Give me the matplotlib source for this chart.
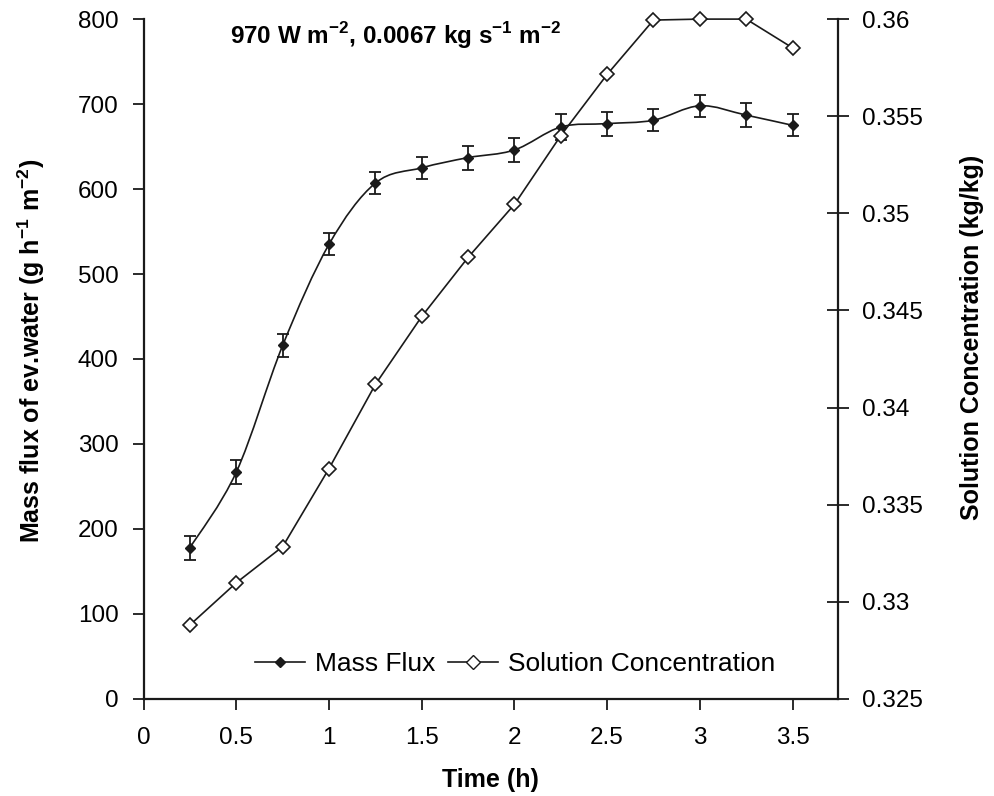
import numpy as np
import matplotlib
matplotlib.use("Agg")
import matplotlib.pyplot as plt
from matplotlib.path import Path
from matplotlib.patches import PathPatch
from matplotlib.lines import Line2D

plt.rcParams['font.family'] = ['Liberation Sans', 'DejaVu Sans']
plt.rcParams['mathtext.fontset'] = 'custom'
plt.rcParams['mathtext.rm'] = 'Liberation Sans'
plt.rcParams['mathtext.bf'] = 'Liberation Sans:bold'

# time (h)
time_h = [0.25, 0.5, 0.75, 1.0, 1.25, 1.5, 1.75, 2.0, 2.25, 2.5, 2.75, 3.0, 3.25, 3.5]
# mass flux of evaporated water (g h-1 m-2) and its error
mass_flux = [178, 267, 416, 535, 607, 625, 637, 646, 673, 677, 681, 698, 687, 675]
flux_err = [14, 14, 14, 13, 13, 13, 14, 14, 15, 14, 13, 13, 14, 13]
# solution concentration (kg/kg)
conc = [0.32881, 0.33098, 0.33284, 0.33686, 0.34119, 0.34469, 0.34773,
        0.35046, 0.35400, 0.35715, 0.35995, 0.36, 0.36, 0.35852]

x_ticks = [0, 0.5, 1, 1.5, 2, 2.5, 3, 3.5]
flux_ticks = [0, 100, 200, 300, 400, 500, 600, 700, 800]
conc_ticks = [0.325, 0.33, 0.335, 0.34, 0.345, 0.35, 0.355, 0.36]
conc_labels = ['0.325', '0.33', '0.335', '0.34', '0.345', '0.35', '0.355', '0.36']

ink = '#1a1a1a'


def smooth_path(x, y):
    # excel-like smoothed line: cubic bezier through the points
    n = len(x)
    verts = [(x[0], y[0])]
    codes = [Path.MOVETO]
    for i in range(n - 1):
        a = i - 1 if i > 0 else i
        b = i + 2 if i + 2 < n else i + 1
        c1 = (x[i] + (x[i + 1] - x[a]) / 6, y[i] + (y[i + 1] - y[a]) / 6)
        c2 = (x[i + 1] - (x[b] - x[i]) / 6, y[i + 1] - (y[b] - y[i]) / 6)
        verts += [c1, c2, (x[i + 1], y[i + 1])]
        codes += [Path.CURVE4] * 3
    return Path(verts, codes)


fig = plt.figure(figsize=(9.94, 7.96), dpi=100)
ax = fig.add_axes([0.1445, 0.122, 0.6985, 0.854])
ax2 = ax.twinx()

ax.add_patch(PathPatch(smooth_path(time_h, mass_flux), fill=False, lw=1.2, color=ink))
ax.errorbar(time_h, mass_flux, yerr=flux_err, fmt='D', ms=5.5, color=ink,
            ecolor=ink, elinewidth=1.3, capsize=4.5, capthick=1.3)

ax2.plot(time_h, conc, '-', color=ink, lw=1.2, marker='D', ms=7,
         mfc='white', mec=ink, mew=1.2, clip_on=False)

ax.set_xlim(0, 3.745)
ax.set_ylim(0, 800)
ax2.set_ylim(0.325, 0.36)
ax.set_xticks(x_ticks)
ax.set_xticklabels([f'{v:g}' for v in x_ticks])
ax.set_yticks(flux_ticks)
ax2.set_yticks(conc_ticks)
ax2.set_yticklabels(conc_labels)

for a in (ax, ax2):
    a.spines['top'].set_visible(False)
    for s in a.spines.values():
        s.set_linewidth(1.6)
        s.set_color(ink)
ax.spines['right'].set_visible(False)
ax2.spines['left'].set_visible(False)
ax2.spines['bottom'].set_visible(False)

ax.tick_params(axis='both', direction='out', length=8, width=1.3, labelsize=17.5, color=ink)
ax.tick_params(axis='y', pad=10)
ax.tick_params(axis='x', pad=12)
ax2.tick_params(axis='y', direction='inout', length=16, width=1.3, labelsize=17.5, pad=9, color=ink)

ax.set_xlabel('Time (h)', fontsize=18, fontweight='bold', labelpad=14)
ax.set_ylabel(r'Mass flux of ev.water (g h$^{\mathbf{-1}}$ m$^{\mathbf{-2}}$)', fontsize=18,
              fontweight='bold')
ax2.set_ylabel('Solution Concentration (kg/kg)', fontsize=18, fontweight='bold')
ax.yaxis.set_label_coords(-0.139, 0.512)
ax2.yaxis.set_label_coords(1.176, 0.532)

ax.text(0.125, 0.998, r'970 W m$^{\mathbf{-2}}$, 0.0067 kg s$^{\mathbf{-1}}$ m$^{\mathbf{-2}}$',
        transform=ax.transAxes, fontsize=17.5, fontweight='bold', va='top', ha='left')

handles = [
    Line2D([], [], color=ink, lw=1.2, marker='D', ms=5.5),
    Line2D([], [], color=ink, lw=1.2, marker='D', ms=7, mfc='white', mec=ink),
]
ax2.legend(handles, ['Mass Flux', 'Solution Concentration'], loc='lower center',
           bbox_to_anchor=(0.535, -0.002), ncol=2, frameon=False, handlelength=1.9,
           handletextpad=0.35, columnspacing=0.5, prop={'size': 19})

fig.savefig('out.png', dpi=100)
